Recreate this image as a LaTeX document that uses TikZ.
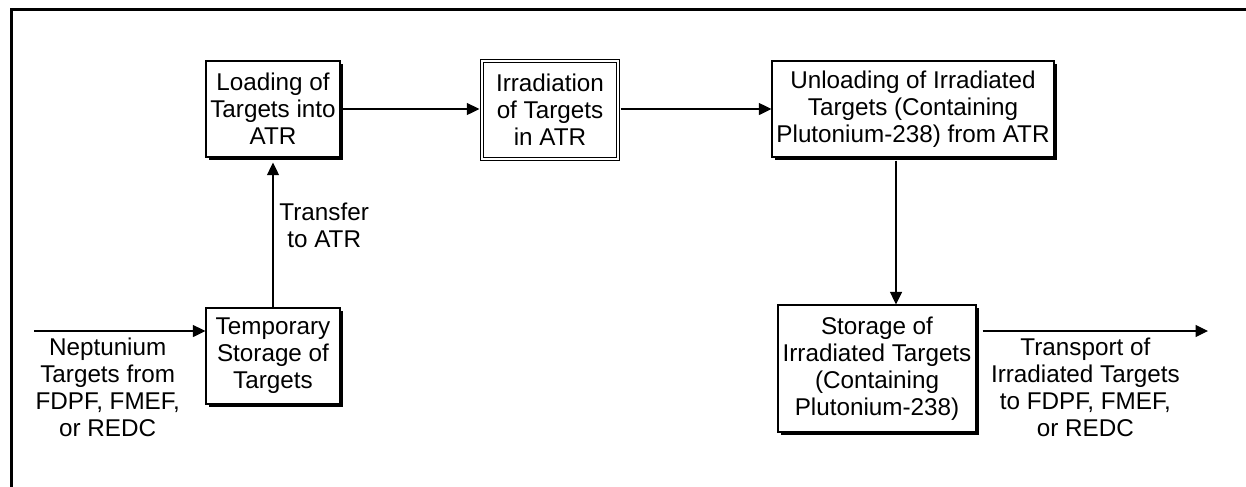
\documentclass[tikz,border=0pt]{standalone}
\usepackage{fontspec}
\setmainfont{Liberation Sans}
\usetikzlibrary{arrows.meta,positioning,calc,shadows}
\newcommand{\fsz}{\fontsize{13.8}{15.4}\selectfont}
\tikzset{
  blk/.style={draw, line width=0.7pt, fill=white, align=center, inner sep=1pt, font=\fsz,
    drop shadow={shadow xshift=0.06cm, shadow yshift=-0.06cm, fill=black, opacity=1}},
  dblk/.style={draw, double, double distance=1.6pt, line width=0.6pt, fill=white, align=center, inner sep=1pt, outer sep=1.5pt, font=\fsz},
  lbl/.style={align=center, font=\fsz},
  flow/.style={->, line width=0.7pt},
}

\begin{document}
\begin{tikzpicture}[>={Triangle[length=0.25cm,width=0.24cm]}]
\useasboundingbox (0,0) rectangle (24.92,-9.72);
% frame (left and top edges only)
\draw[line width=1.7pt] (0.23,-9.8) -- (0.23,-0.19) -- (25.0,-0.19);
% top row
\node[blk, minimum width=2.68cm, minimum height=1.92cm] (load) at (5.46,-2.18) {Loading of\\Targets into\\ATR};
\node[dblk, minimum width=2.72cm, minimum height=1.96cm] (irr) at (11.0,-2.2) {Irradiation\\of Targets\\in ATR};
\node[blk, minimum width=5.64cm, minimum height=1.92cm] (unload) at (18.26,-2.18) {Unloading of Irradiated\\Targets (Containing\\Plutonium-238) from ATR};
% bottom row
\node[blk, minimum width=2.68cm, minimum height=1.92cm] (temp) at (5.46,-7.12) {Temporary\\Storage of\\Targets};
\node[blk, minimum width=3.96cm, minimum height=2.54cm] (sto) at (17.54,-7.37) {Storage of\\Irradiated Targets\\(Containing\\Plutonium-238)};
\coordinate (nin) at (0.68,-6.62);
\coordinate (sout) at (24.16,-6.62);
% connectors
\draw[flow] (nin) -- node[lbl, below, pos=0.43] {Neptunium\\Targets from\\FDPF, FMEF,\\or REDC} (nin -| temp.west);
\draw[flow, shorten >=0.1cm] (temp) -- node[lbl, right, pos=0.55] {Transfer\\to ATR} (load);
\draw[flow] (load.east) -- (irr.west |- load.east);
\draw[flow] (irr.east |- load.east) -- (unload.west);
\draw[flow, shorten <=0.06cm] ([xshift=-0.34cm]unload.south) coordinate (u) -- (u |- sto.north);
\draw[flow, shorten <=0.12cm] (sto.east |- sout) -- node[lbl, below, pos=0.47] {Transport of\\Irradiated Targets\\to FDPF, FMEF,\\or REDC} (sout);
\end{tikzpicture}
\end{document}
